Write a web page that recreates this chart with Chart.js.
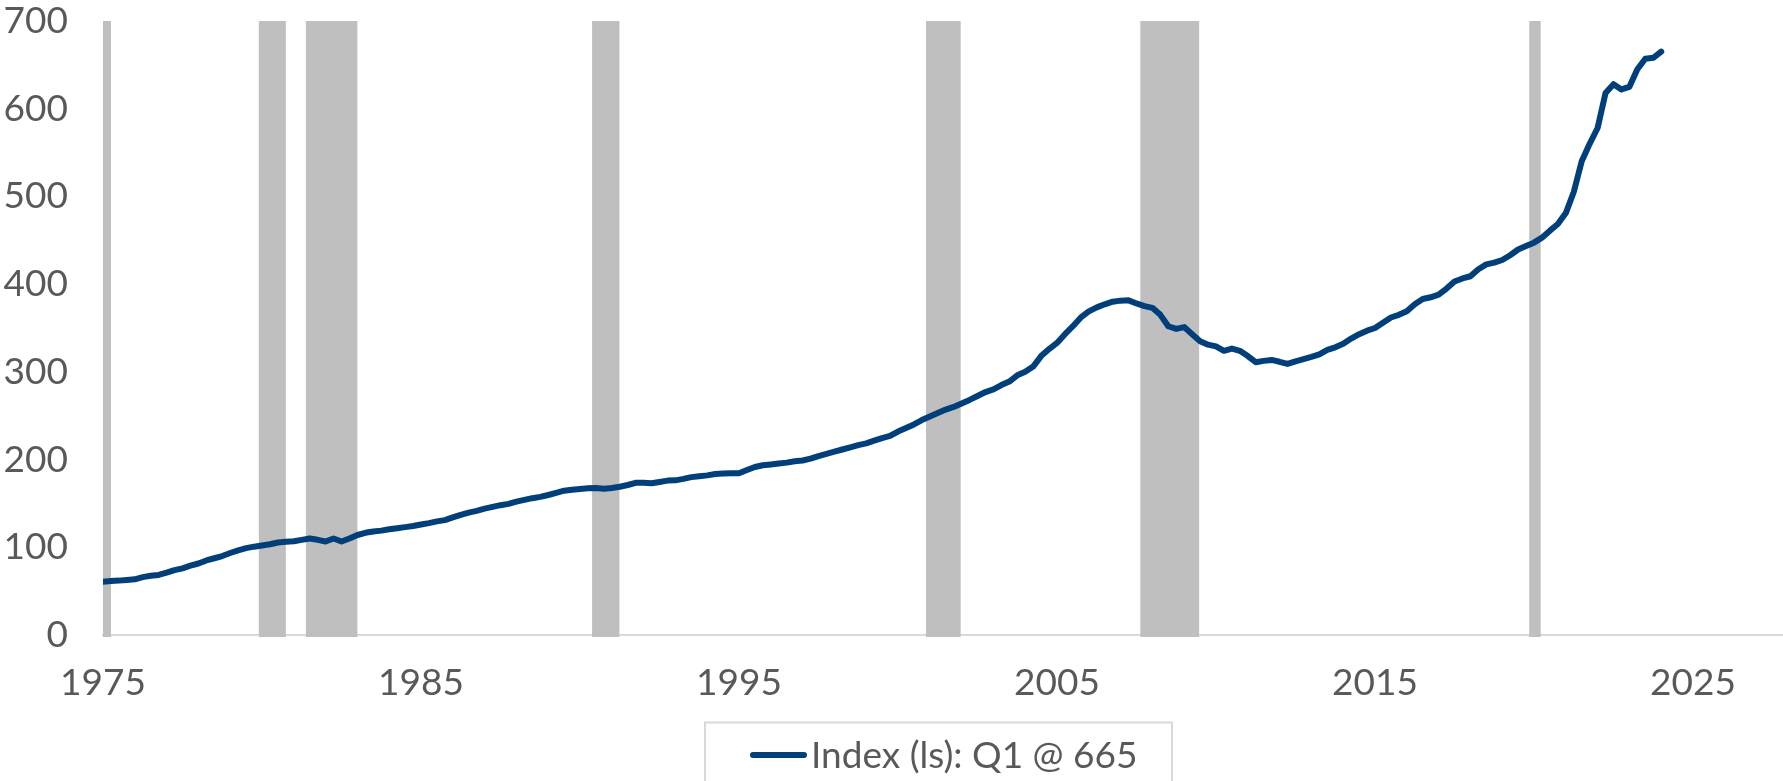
<!DOCTYPE html>
<html>
<head>
<meta charset="utf-8">
<script src="https://cdn.jsdelivr.net/npm/chart.js@4.4.0/dist/chart.umd.min.js"></script>
<style>
html,body{margin:0;padding:0;background:#ffffff;overflow:hidden;}
#wrap{width:1783px;height:781px;position:relative;}
</style>
</head>
<body>
<div id="wrap"><canvas id="c"></canvas></div>
<script>
// ---- Data (quarterly, 1975 Q1 to 2024 Q1) ----
const startYear = 1975;
const seriesLabel = 'Index (ls): Q1 @ 665';
const indexValues = [
  60.8, 61.5, 62.0, 62.8,      // 1975
  63.5, 66.0, 67.5, 68.5,      // 1976
  71.0, 74.0, 76.0, 79.0,      // 1977
  81.5, 85.0, 87.5, 90.0,      // 1978
  93.5, 96.5, 99.0, 100.7,     // 1979
  102.0, 103.5, 105.5, 106.4,  // 1980
  106.8, 108.5, 110.0, 108.5,  // 1981
  106.6, 110.0, 106.6, 110.0,  // 1982
  114.0, 116.5, 118.0, 119.0,  // 1983
  120.5, 121.8, 123.0, 124.3,  // 1984
  126.0, 127.5, 129.5, 131.0,  // 1985
  134.0, 137.0, 139.5, 141.5,  // 1986
  144.0, 146.0, 148.0, 149.5,  // 1987
  152.0, 154.0, 156.0, 157.5,  // 1988
  159.6, 162.0, 164.5, 165.5,  // 1989
  166.5, 167.2, 167.5, 166.8,  // 1990
  167.5, 169.0, 171.0, 173.5,  // 1991
  173.7, 173.0, 174.5, 176.0,  // 1992
  176.3, 178.0, 180.0, 181.0,  // 1993
  182.0, 183.5, 184.0, 184.3,  // 1994
  184.3, 188.0, 191.5, 193.5,  // 1995
  194.5, 195.5, 196.5, 198.0,  // 1996
  199.0, 201.0, 204.0, 206.5,  // 1997
  209.0, 211.5, 214.0, 216.5,  // 1998
  218.5, 221.5, 224.5, 227.0,  // 1999
  232.0, 236.0, 240.0, 245.0,  // 2000
  249.0, 253.0, 257.0, 260.0,  // 2001
  264.0, 268.0, 272.5, 277.0,  // 2002
  280.0, 285.0, 289.0, 296.0,  // 2003
  300.0, 306.0, 318.0, 326.0,  // 2004
  333.0, 343.0, 352.0, 362.0,  // 2005
  369.0, 373.5, 377.0, 380.0,  // 2006
  381.2, 381.5, 378.0, 375.0,  // 2007
  373.0, 365.0, 352.0, 349.0,  // 2008
  351.0, 343.0, 335.0, 331.0,  // 2009
  329.0, 324.0, 326.5, 324.0,  // 2010
  318.0, 311.0, 312.5, 313.6,  // 2011
  311.5, 309.0, 312.0, 314.5,  // 2012
  317.0, 320.0, 325.0, 328.0,  // 2013
  332.0, 338.0, 343.0, 347.0,  // 2014
  350.0, 356.0, 362.0, 365.0,  // 2015
  369.0, 377.0, 383.0, 385.0,  // 2016
  388.0, 395.0, 403.0, 406.5,  // 2017
  409.0, 417.0, 422.5, 424.5,  // 2018
  427.5, 433.0, 439.5, 443.5,  // 2019
  447.3, 453.0, 461.0, 468.5,  // 2020
  481.0, 505.0, 540.0, 560.0,  // 2021
  578.0, 618.0, 628.0, 622.0,  // 2022
  625.0, 645.0, 657.0, 658.0,  // 2023
  665.0                        // 2024 Q1
];
// Recession shading (decimal years)
const recessionStart = [1975.0, 1979.9, 1981.38, 1990.38, 2000.88, 2007.62, 2019.85];
const recessionEnd   = [1975.25, 1980.75, 1983.0, 1991.24, 2001.97, 2009.47, 2020.21];
// Tick labels
const xTickYears = [1975, 1985, 1995, 2005, 2015, 2025];
const yTickValues = [0, 100, 200, 300, 400, 500, 600, 700];

// ---- Build chart data ----
const points = indexValues.map((v, i) => ({ x: startYear + i / 4, y: v }));

const TEXT_COLOR = '#595959';
const LINE_COLOR = '#003f7a';
const FONT = 'Lato';

const recessionPlugin = {
  id: 'recessions',
  beforeDatasetsDraw(chart) {
    const { ctx, chartArea, scales } = chart;
    const xs = scales.x;
    ctx.save();
    ctx.fillStyle = '#bfbfbf';
    for (let i = 0; i < recessionStart.length; i++) {
      const x0 = Math.max(xs.getPixelForValue(recessionStart[i]), chartArea.left);
      const x1 = xs.getPixelForValue(recessionEnd[i]);
      ctx.fillRect(x0, chartArea.top, x1 - x0, chartArea.bottom + 2 - chartArea.top);
    }
    ctx.restore();
  }
};

const boxedLegendPlugin = {
  id: 'boxedLegend',
  afterDraw(chart) {
    const { ctx } = chart;
    const ds = chart.data.datasets[0];
    ctx.save();
    ctx.strokeStyle = '#d9d9d9';
    ctx.lineWidth = 2;
    ctx.strokeRect(705, 722.5, 467, 80);
    ctx.strokeStyle = ds.borderColor;
    ctx.lineWidth = 6;
    ctx.lineCap = 'round';
    ctx.beginPath();
    ctx.moveTo(753, 755);
    ctx.lineTo(804, 755);
    ctx.stroke();
    ctx.fillStyle = TEXT_COLOR;
    ctx.font = '37px ' + FONT;
    ctx.textBaseline = 'alphabetic';
    ctx.textAlign = 'left';
    ctx.fillText(ds.label, 811, 768);
    ctx.restore();
  }
};

new Chart(document.getElementById('c'), {
  type: 'line',
  data: {
    datasets: [{
      label: seriesLabel,
      data: points,
      borderColor: LINE_COLOR,
      backgroundColor: LINE_COLOR,
      borderWidth: 6,
      pointRadius: 0,
      tension: 0,
      borderJoinStyle: 'round',
      borderCapStyle: 'round',
      fill: false
    }]
  },
  options: {
    responsive: true,
    maintainAspectRatio: false,
    animation: false,
    devicePixelRatio: 1,
    layout: { padding: { top: 21, right: 0, bottom: 0, left: 0 } },
    plugins: {
      legend: { display: false },
      tooltip: { enabled: false }
    },
    scales: {
      x: {
        type: 'linear',
        min: 1975,
        max: 2027.83,
        grid: { display: false, drawTicks: false },
        border: { display: true, color: '#d9d9d9', width: 2 },
        afterBuildTicks: (s) => { s.ticks = xTickYears.map(v => ({ value: v })); },
        afterFit: (s) => { s.height = 146; s.paddingLeft = 0; s.paddingRight = 0; },
        ticks: {
          color: TEXT_COLOR,
          font: { family: FONT, size: 37, lineHeight: 1.0 },
          padding: 30,
          maxRotation: 0,
          autoSkip: false,
          callback: (v) => String(v)
        }
      },
      y: {
        type: 'linear',
        min: 0,
        max: 700,
        grid: { display: false, drawTicks: false },
        border: { display: false },
        afterBuildTicks: (s) => { s.ticks = yTickValues.map(v => ({ value: v })); },
        afterFit: (s) => { s.width = 103; s.paddingTop = 0; s.paddingBottom = 0; },
        ticks: {
          color: TEXT_COLOR,
          font: { family: FONT, size: 37, lineHeight: 1.0 },
          padding: 35,
          callback: (v) => String(v)
        }
      }
    }
  },
  plugins: [recessionPlugin, boxedLegendPlugin]
});
</script>
</body>
</html>
